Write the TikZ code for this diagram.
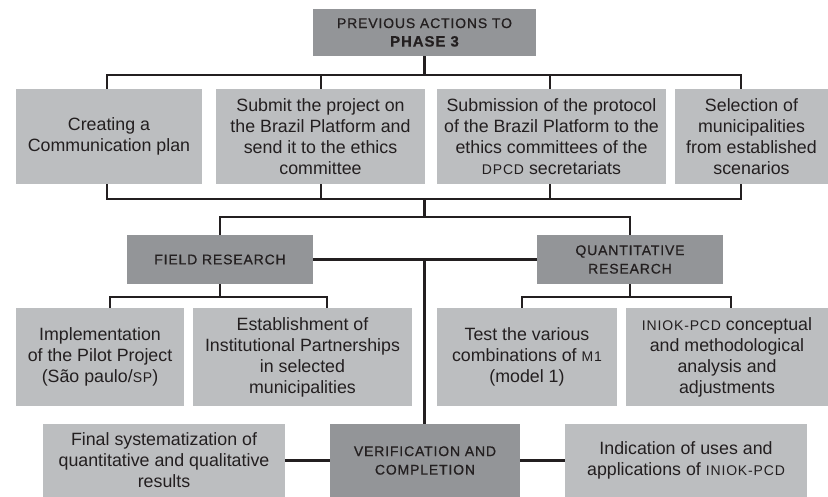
\documentclass[tikz,border=0pt]{standalone}
\usepackage{fontspec}
\setmainfont{Liberation Sans}
\newfontfamily\hdfont[LetterSpace=6,FakeBold=0.6]{Liberation Sans}
\newfontfamily\scfont[LetterSpace=6]{Liberation Sans}
\newcommand\smc[1]{{\scfont\fontsize{14}{21}\selectfont #1}}
\usetikzlibrary{backgrounds}
\definecolor{lightg}{HTML}{BCBEC0}
\definecolor{darkg}{HTML}{939598}
\definecolor{ink}{HTML}{231F20}
\begin{document}
\begin{tikzpicture}[x=1pt,y=-1pt,
  lbox/.style={fill=lightg, text=ink, inner sep=0pt, align=center,
    font=\fontsize{17.8}{21}\selectfont},
  dbox/.style={fill=darkg, text=ink, inner sep=0pt, align=center,
    font=\hdfont\fontsize{14}{18.5}\selectfont},
  conn/.style={draw=ink, line width=2.6pt, line cap=rect}]
\useasboundingbox (0,0) rectangle (828,497);

% top
\node[dbox, minimum width=223pt, minimum height=47pt] (top) at (424.5,32.5)
  {PREVIOUS ACTIONS TO\\{\fontsize{15}{17}\selectfont\bfseries PHASE 3}};

% row 1
\node[lbox, minimum width=186pt, minimum height=95pt] (b1) at (109,136.5)
  {Creating a\\Communication plan};
\node[lbox, minimum width=209pt, minimum height=95pt] (b2) at (320.5,136.5)
  {Submit the project on\\the Brazil Platform and\\send it to the ethics\\committee};
\node[lbox, minimum width=229pt, minimum height=95pt] (b3) at (551.5,136.5)
  {Submission of the protocol\\of the Brazil Platform to the\\ethics committees of the\\\smc{DPCD} secretariats};
\node[lbox, minimum width=153pt, minimum height=95pt] (b4) at (751.5,136.5)
  {Selection of\\municipalities\\from established\\scenarios};

% research headers
\node[dbox, minimum width=186pt, minimum height=49pt] (fr) at (220,259.5)
  {FIELD RESEARCH};
\node[dbox, minimum width=186pt, minimum height=49pt] (qr) at (630,259.5)
  {QUANTITATIVE\\RESEARCH};

% row 3
\node[lbox, minimum width=168pt, minimum height=98pt] (ra) at (100,357)
  {Implementation\\of the Pilot Project\\(São paulo/\smc{SP})};
\node[lbox, minimum width=219pt, minimum height=98pt] (rb) at (302.5,357)
  {Establishment of\\Institutional Partnerships\\in selected\\municipalities};
\node[lbox, minimum width=180pt, minimum height=98pt] (rc) at (527,357)
  {Test the various\\combinations of \smc{M1}\\(model 1)};
\node[lbox, minimum width=202pt, minimum height=98pt] (rd) at (727,357)
  {\smc{INIOK-PCD} conceptual\\and methodological\\analysis and\\adjustments};

% row 4
\node[lbox, minimum width=242pt, minimum height=73pt] (fin) at (164,460.5)
  {Final systematization of\\quantitative and qualitative\\results};
\node[dbox, minimum width=190pt, minimum height=73pt] (ver) at (425,460.5)
  {VERIFICATION AND\\COMPLETION};
\node[lbox, minimum width=242pt, minimum height=73pt] (ind) at (686,460.5)
  {Indication of uses and\\applications of \smc{INIOK-PCD}};

% junction coordinates
\coordinate (t1) at (107,75);
\coordinate (t2) at (321,75);
\coordinate (t3) at (550,75);
\coordinate (t4) at (741,75);
\coordinate (mid) at (424.5,199);
\coordinate (m2) at (424.5,217);
\coordinate (fa) at (110,297);
\coordinate (fb) at (327,297);
\coordinate (qa) at (522,297);
\coordinate (qb) at (731,297);

\begin{scope}[on background layer]
  % top bus
  \draw[conn] (top.south) -- (top.south |- t1);
  \draw[conn] (t1) -- (t4);
  \draw[conn] (t1) -- (t1 |- b1.north);
  \draw[conn] (t2) -- (t2 |- b2.north);
  \draw[conn] (t3) -- (t3 |- b3.north);
  \draw[conn] (t4) -- (t4 |- b4.north);
  % bottom bus of row 1
  \draw[conn] (t1 |- b1.south) -- (t1 |- mid);
  \draw[conn] (t2 |- b2.south) -- (t2 |- mid);
  \draw[conn] (t3 |- b3.south) -- (t3 |- mid);
  \draw[conn] (t4 |- b4.south) -- (t4 |- mid);
  \draw[conn] (t1 |- mid) -- (t4 |- mid);
  \draw[conn] (mid) -- (m2);
  \draw[conn] (fr.north) -- (fr.north |- m2) -- (qr.north |- m2) -- (qr.north);
  % field - quantitative link and down to verification
  \draw[conn] (fr) -- (qr);
  \draw[conn] (mid |- fr.east) -- (mid |- ver.north);
  % field research children
  \draw[conn] (fr.south) -- (fr.south |- fa);
  \draw[conn] (fa) -- (fb);
  \draw[conn] (fa) -- (fa |- ra.north);
  \draw[conn] (fb) -- (fb |- rb.north);
  % quantitative children
  \draw[conn] (qr.south) -- (qr.south |- qa);
  \draw[conn] (qa) -- (qb);
  \draw[conn] (qa) -- (qa |- rc.north);
  \draw[conn] (qb) -- (qb |- rd.north);
  % bottom row
  \draw[conn] (fin) -- (ver);
  \draw[conn] (ver) -- (ind);
\end{scope}
\end{tikzpicture}
\end{document}
